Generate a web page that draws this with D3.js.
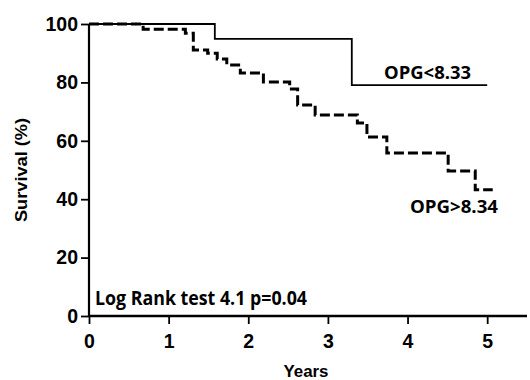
<!DOCTYPE html>
<html><head><meta charset="utf-8">
<script src="https://cdn.jsdelivr.net/npm/d3@7"></script>
<style>html,body{margin:0;padding:0;background:#fff;}svg{display:block;}</style>
</head><body>
<script>
// Data
const xTicks = [0, 1, 2, 3, 4, 5];
const yTicks = [0, 20, 40, 60, 80, 100];
const lowTimes = [0, 1.58, 3.30, 5.0];
const lowSurv = [100, 94.9, 79.1, 79.1];
const highTimes = [0, 0.68, 1.21, 1.31, 1.49, 1.61, 1.73, 1.90, 2.19, 2.52, 2.62, 2.84, 3.37, 3.49, 3.74, 4.51, 4.85, 5.07];
const highSurv = [100, 98.2, 96.8, 91.1, 90.0, 88.0, 86.0, 83.2, 80.1, 77.7, 72.3, 68.8, 66.1, 61.3, 55.8, 49.7, 43.2, 43.2];
const lowLabel = "OPG<8.33";
const highLabel = "OPG>8.34";
const testLabel = "Log Rank test 4.1 p=0.04";

const W = 530, H = 380;
const svg = d3.select("body").append("svg").attr("width", W).attr("height", H);
svg.append("rect").attr("width", W).attr("height", H).attr("fill", "#fff");

const x = d3.scaleLinear().domain([0, 5.5]).range([89, 527]);
const y = d3.scaleLinear().domain([0, 100]).range([316, 24]);

const tickFont = "'Liberation Sans', Arial, sans-serif";

// Y axis
const yAxis = svg.append("g").attr("transform", `translate(${x(0)},0)`)
  .call(d3.axisLeft(y).tickValues(yTicks).tickSize(8).tickPadding(3));
yAxis.select(".domain").attr("stroke-width", 2.2).attr("d", `M0,${y(0)}V${y(100)}`);
yAxis.selectAll(".tick line").attr("stroke-width", 1.8);
yAxis.selectAll(".tick text").attr("font-family", tickFont).attr("font-weight", "bold")
  .attr("font-size", 19.5).attr("fill", "#000");

// X axis
const xAxis = svg.append("g").attr("transform", `translate(0,${y(0)})`)
  .call(d3.axisBottom(x).tickValues(xTicks).tickSize(8).tickPadding(10).tickFormat(d3.format("d")));
xAxis.select(".domain").attr("stroke-width", 2.4).attr("d", `M${x(0)},0H${x(5.5)}`);
xAxis.selectAll(".tick line").attr("stroke-width", 1.8);
xAxis.selectAll(".tick text").attr("font-family", tickFont).attr("font-weight", "bold")
  .attr("font-size", 19.5).attr("fill", "#000");

// Curves
const line = d3.line().curve(d3.curveStepAfter).x(d => x(d[0])).y(d => y(d[1]));
svg.append("path").datum(lowTimes.map((t, i) => [t, lowSurv[i]]))
  .attr("d", line).attr("fill", "none").attr("stroke", "#000").attr("stroke-width", 1.8);
svg.append("path").datum(highTimes.map((t, i) => [t, highSurv[i]]))
  .attr("d", line).attr("fill", "none").attr("stroke", "#000").attr("stroke-width", 3)
  .attr("stroke-dasharray", "10,4");

const annFont = "'Open Sans', sans-serif";
function txt(s, xx, yy, size, len, anchor) {
  return svg.append("text").attr("x", xx).attr("y", yy).attr("font-family", annFont)
    .attr("font-weight", 700).attr("font-size", size).attr("fill", "#000")
    .attr("text-anchor", anchor || "start")
    .attr("textLength", len).attr("lengthAdjust", "spacingAndGlyphs").text(s);
}
txt(lowLabel, 384, 79, 18, 87);
txt(highLabel, 410, 213, 18, 88);
txt(testLabel, 95, 305, 19, 212);

// Axis titles
svg.append("text").attr("x", 306).attr("y", 377).attr("text-anchor", "middle")
  .attr("font-family", tickFont).attr("font-weight", "bold").attr("font-size", 17)
  .attr("textLength", 45).attr("lengthAdjust", "spacingAndGlyphs").text("Years");
svg.append("text").attr("transform", "translate(27,170) rotate(-90)").attr("text-anchor", "middle")
  .attr("font-family", tickFont).attr("font-weight", "bold").attr("font-size", 17)
  .attr("textLength", 104).attr("lengthAdjust", "spacingAndGlyphs").text("Survival (%)");
</script>
</body></html>
